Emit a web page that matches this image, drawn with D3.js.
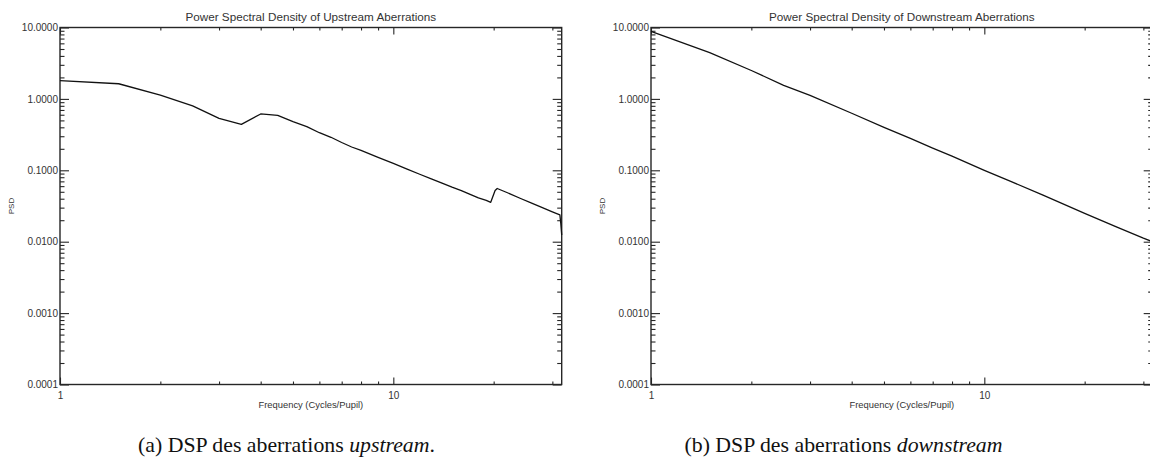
<!DOCTYPE html>
<html>
<head>
<meta charset="utf-8">
<script src="https://cdn.jsdelivr.net/npm/d3@7"></script>
<style>
  html, body { margin: 0; padding: 0; background: #fff; }
  svg { display: block; }
  .tick text { font-family: "Liberation Sans", Arial, sans-serif; fill: #333; }
</style>
</head>
<body>
<svg id="fig" width="1150" height="463"></svg>
<script>
// Spatial frequency (cycles per pupil) and PSD samples, upstream aberrations
const upFreq = [1, 1.5, 2, 2.5, 3, 3.5, 4, 4.5, 5, 5.5, 6, 6.5, 7, 7.5, 8, 9, 10, 11, 12, 13, 14, 15, 16, 17, 18, 19, 19.6, 20.2, 20.5, 22, 24, 26, 28, 30, 31.6, 31.8, 32];
const upPsd  = [1.80, 1.63, 1.13, 0.80, 0.535, 0.44, 0.615, 0.589, 0.48, 0.41, 0.336, 0.29, 0.245, 0.212, 0.19, 0.152, 0.125, 0.104, 0.088, 0.076, 0.066, 0.058, 0.052, 0.046, 0.041, 0.038, 0.0356, 0.052, 0.0556, 0.0485, 0.0406, 0.0347, 0.0301, 0.0262, 0.0237, 0.018, 0.0124];

// Downstream aberrations
const downFreq = [1, 1.5, 2, 2.5, 3, 4, 5, 6, 7, 8, 10, 12, 15, 20, 25, 30, 32];
const downPsd  = [8.8, 4.44, 2.5, 1.55, 1.12, 0.63, 0.40, 0.28, 0.205, 0.158, 0.100, 0.070, 0.045, 0.025, 0.016, 0.0112, 0.0100];

// Axis ticks
const yMajor = [0.0001, 0.001, 0.01, 0.1, 1, 10];
const xMajor = [1, 10];
const xMinor = [2, 3, 4, 5, 6, 7, 8, 9, 20, 30];
const xDomain = [1, 32];
const yDomain = [0.0001, 10];

const titles = ["Power Spectral Density of Upstream Aberrations",
                "Power Spectral Density of Downstream Aberrations"];
const xTitle = "Frequency (Cycles/Pupil)";
const yTitle = "PSD";

const svg = d3.select("#fig");
svg.append("rect").attr("width", 1150).attr("height", 463).attr("fill", "#fff");

const yMinor = [];
for (let e = -4; e < 1; e++) for (let m = 2; m <= 9; m++) yMinor.push(m * Math.pow(10, e));

function panel(left, title, freq, psd) {
  const w = 501.7, top = 27.5, bottom = 384.5;
  const x = d3.scaleLog().domain(xDomain).range([left, left + w]);
  const y = d3.scaleLog().domain(yDomain).range([bottom, top]);
  const g = svg.append("g");
  const ink = "#262626";

  const styleAxis = sel => {
    sel.select(".domain").remove();
    sel.selectAll("line").attr("stroke", ink).attr("stroke-width", 1.1);
  };

  // bottom / top x axes, ticks pointing inward
  g.append("g").attr("transform", `translate(0,${bottom})`)
    .call(d3.axisBottom(x).tickValues(xMinor).tickSize(-3).tickFormat("")).call(styleAxis);
  g.append("g").attr("transform", `translate(0,${bottom})`)
    .call(d3.axisBottom(x).tickValues(xMajor).tickSize(-7).tickPadding(7).tickFormat(d3.format("d")))
    .call(styleAxis)
    .selectAll("text").style("font-size", "10px");
  g.append("g").attr("transform", `translate(0,${top})`)
    .call(d3.axisTop(x).tickValues(xMinor).tickSize(-3).tickFormat("")).call(styleAxis);
  g.append("g").attr("transform", `translate(0,${top})`)
    .call(d3.axisTop(x).tickValues(xMajor).tickSize(-7).tickFormat("")).call(styleAxis);

  // left / right y axes
  g.append("g").attr("transform", `translate(${left},0)`)
    .call(d3.axisLeft(y).tickValues(yMinor).tickSize(-4.5).tickFormat("")).call(styleAxis);
  g.append("g").attr("transform", `translate(${left},0)`)
    .call(d3.axisLeft(y).tickValues(yMajor).tickSize(-9).tickPadding(2).tickFormat(d3.format(".4f")))
    .call(styleAxis)
    .selectAll("text").style("font-size", "10px");
  g.append("g").attr("transform", `translate(${left + w},0)`)
    .call(d3.axisRight(y).tickValues(yMinor).tickSize(-4.5).tickFormat("")).call(styleAxis);
  g.append("g").attr("transform", `translate(${left + w},0)`)
    .call(d3.axisRight(y).tickValues(yMajor).tickSize(-9).tickFormat("")).call(styleAxis);

  // frame
  g.append("rect").attr("x", left).attr("y", top).attr("width", w).attr("height", bottom - top)
    .attr("fill", "none").attr("stroke", ink).attr("stroke-width", 1.4);

  // curve
  const pts = freq.map((f, i) => [f, psd[i]]);
  g.append("path").datum(pts)
    .attr("d", d3.line().x(d => x(d[0])).y(d => y(d[1])))
    .attr("fill", "none").attr("stroke", "#111").attr("stroke-width", 1.3)
    .attr("stroke-linejoin", "round");

  const font = "'Liberation Sans', Arial, sans-serif";
  g.append("text").attr("x", left + w / 2).attr("y", 21).attr("text-anchor", "middle")
    .attr("font-family", font).attr("font-size", 11.7).attr("fill", "#333").text(title);
  g.append("text").attr("x", left + w / 2).attr("y", 408).attr("text-anchor", "middle")
    .attr("font-family", font).attr("font-size", 9.4).attr("fill", "#333").text(xTitle);
  g.append("text").attr("transform", `translate(${left - 46},206) rotate(-90)`)
    .attr("text-anchor", "middle")
    .attr("font-family", font).attr("font-size", 8).attr("fill", "#333").text(yTitle);
}

panel(60, titles[0], upFreq, upPsd);
panel(651, titles[1], downFreq, downPsd);

// sub-figure captions
const serif = "'Liberation Serif', 'Times New Roman', serif";
const capA = svg.append("text").attr("x", 286.5).attr("y", 452).attr("text-anchor", "middle")
  .attr("font-family", serif).attr("font-size", 21.8).attr("fill", "#111");
capA.append("tspan").text("(a) DSP des aberrations ");
capA.append("tspan").attr("font-style", "italic").text("upstream");
capA.append("tspan").text(".");

const capB = svg.append("text").attr("x", 843.5).attr("y", 452).attr("text-anchor", "middle")
  .attr("font-family", serif).attr("font-size", 21.8).attr("fill", "#111");
capB.append("tspan").text("(b) DSP des aberrations ");
capB.append("tspan").attr("font-style", "italic").text("downstream");
</script>
</body>
</html>
